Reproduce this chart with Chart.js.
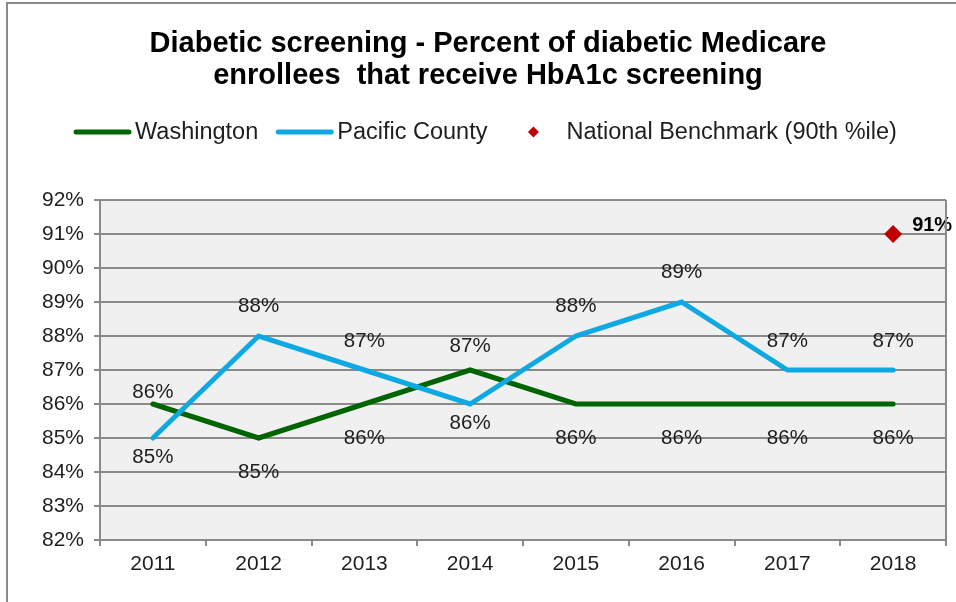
<!DOCTYPE html>
<html>
<head>
<meta charset="utf-8">
<script src="https://cdn.jsdelivr.net/npm/chart.js@4/dist/chart.umd.min.js"></script>
<style>
  html, body { margin: 0; padding: 0; background: #fff; }
  canvas { display: block; }
</style>
</head>
<body>
<canvas id="screeningChart" width="956" height="602"></canvas>
<script>
const years = ['2011', '2012', '2013', '2014', '2015', '2016', '2017', '2018'];
const washington = [86, 85, 86, 87, 86, 86, 86, 86];
const pacificCounty = [85, 88, 87, 86, 88, 89, 87, 87];
const benchmark = [null, null, null, null, null, null, null, 91];
const titleLines = [
  'Diabetic screening - Percent of diabetic Medicare',
  'enrollees  that receive HbA1c screening'
];

const FONT = "'Liberation Sans', Arial, sans-serif";
const GRID = '#8a8a8a';
const TEXT = '#1e1e1e';

// label offsets (px from the point, negative = above)
const labelOffsets = [
  [-12, 34, 34, -24, 34, 34, 34, 34],
  [19, -30, -29, 19, -30, -30, -29, -29]
];

const framePlugin = {
  id: 'frame',
  beforeDraw(chart) {
    const { ctx, chartArea: a } = chart;
    ctx.save();
    ctx.fillStyle = '#fff';
    ctx.fillRect(0, 0, chart.width, chart.height);
    ctx.strokeStyle = GRID;
    ctx.lineWidth = 2;
    ctx.beginPath();
    ctx.moveTo(7, chart.height);
    ctx.lineTo(7, 3);
    ctx.lineTo(chart.width, 3);
    ctx.stroke();
    ctx.fillStyle = '#f0f0f0';
    ctx.fillRect(a.left, a.top, a.right - a.left, a.bottom - a.top);
    ctx.restore();
  },
  afterDraw(chart) {
    const { ctx, chartArea: a } = chart;
    ctx.save();
    ctx.strokeStyle = GRID;
    ctx.lineWidth = 2;
    ctx.beginPath();
    ctx.moveTo(a.right, a.top);
    ctx.lineTo(a.right, a.bottom);
    ctx.stroke();

    // title
    ctx.fillStyle = '#000';
    ctx.textAlign = 'center';
    ctx.textBaseline = 'middle';
    ctx.font = 'bold 29px ' + FONT;
    titleLines.forEach((line, i) => ctx.fillText(line, 488, 44 + i * 32));

    // legend
    let x = 74;
    const y = 132;
    ctx.font = '23.5px ' + FONT;
    ctx.textAlign = 'left';
    chart.data.datasets.forEach((ds) => {
      if (ds.showLine === false) {
        ctx.fillStyle = ds.backgroundColor;
        ctx.beginPath();
        ctx.moveTo(x + 28 - 5.5, y);
        ctx.lineTo(x + 28, y - 5.5);
        ctx.lineTo(x + 28 + 5.5, y);
        ctx.lineTo(x + 28, y + 5.5);
        ctx.closePath();
        ctx.fill();
      } else {
        ctx.strokeStyle = ds.borderColor;
        ctx.lineWidth = 5;
        ctx.lineCap = 'round';
        ctx.beginPath();
        ctx.moveTo(x + 2, y);
        ctx.lineTo(x + 55, y);
        ctx.stroke();
      }
      ctx.fillStyle = TEXT;
      ctx.fillText(ds.label, x + 61, y + 1);
      x += 61 + ctx.measureText(ds.label).width + 18;
    });
    ctx.restore();
  }
};

const labelPlugin = {
  id: 'pointLabels',
  afterDatasetsDraw(chart) {
    const { ctx } = chart;
    ctx.save();
    ctx.textBaseline = 'middle';
    chart.data.datasets.forEach((ds, di) => {
      const meta = chart.getDatasetMeta(di);
      meta.data.forEach((pt, i) => {
        const v = ds.data[i];
        if (v == null) return;
        if (ds.showLine === false) {
          ctx.font = 'bold 20px ' + FONT;
          ctx.textAlign = 'left';
          ctx.fillStyle = '#000';
          ctx.fillText(v + '%', pt.x + 19, pt.y - 9);
        } else {
          ctx.font = '20.5px ' + FONT;
          ctx.textAlign = 'center';
          ctx.fillStyle = TEXT;
          ctx.fillText(v + '%', pt.x, pt.y + labelOffsets[di][i]);
        }
      });
    });
    ctx.restore();
  }
};

new Chart(document.getElementById('screeningChart'), {
  type: 'line',
  data: {
    labels: years,
    datasets: [
      {
        label: 'Washington',
        data: washington,
        borderColor: '#006400',
        borderWidth: 5,
        pointRadius: 0,
        tension: 0,
        borderCapStyle: 'round',
        order: 2
      },
      {
        label: 'Pacific County',
        data: pacificCounty,
        borderColor: '#0ea9e2',
        borderWidth: 5,
        pointRadius: 0,
        tension: 0,
        borderCapStyle: 'round',
        order: 1
      },
      {
        label: 'National Benchmark (90th %ile)',
        data: benchmark,
        showLine: false,
        pointStyle: 'rectRot',
        pointRadius: 9,
        backgroundColor: '#c00000',
        borderColor: '#c00000',
        borderWidth: 0,
        order: 0
      }
    ]
  },
  options: {
    responsive: false,
    animation: false,
    devicePixelRatio: 1,
    layout: { padding: { top: 200, left: 8, right: 10, bottom: 22 } },
    plugins: {
      title: { display: false },
      legend: { display: false },
      tooltip: { enabled: false }
    },
    scales: {
      x: {
        offset: true,
        afterFit: (axis) => { axis.height = 40; },
        grid: {
          offset: true,
          drawOnChartArea: false,
          color: GRID,
          lineWidth: 2,
          tickLength: 6
        },
        border: { color: GRID, width: 2 },
        ticks: { color: TEXT, font: { family: FONT, size: 21 }, padding: 6 }
      },
      y: {
        min: 82,
        max: 92,
        afterFit: (axis) => { axis.width = 92; },
        grid: { color: GRID, lineWidth: 2, tickLength: 6 },
        border: { color: GRID, width: 2 },
        ticks: {
          stepSize: 1,
          color: TEXT,
          padding: 10,
          font: { family: FONT, size: 21 },
          callback: (v) => v + '%'
        }
      }
    }
  },
  plugins: [framePlugin, labelPlugin]
});
</script>
</body>
</html>
